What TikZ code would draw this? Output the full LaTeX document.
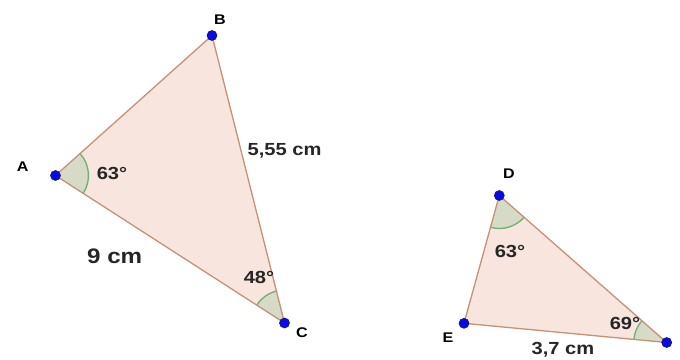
\documentclass[tikz,border=0pt]{standalone}
\usepackage{fontspec}
\newfontfamily\lbl[FakeStretch=1.15]{Liberation Sans}
\usetikzlibrary{angles}
\definecolor{trifill}{RGB}{248,230,222}
\definecolor{triedge}{RGB}{196,146,118}
\definecolor{angfill}{RGB}{214,218,198}
\definecolor{angarc}{RGB}{110,178,112}
\definecolor{ptblue}{RGB}{10,10,230}
\definecolor{ptedge}{RGB}{20,20,110}
\begin{document}
\begin{tikzpicture}[x=1pt,y=1pt,
  pt/.style={circle,fill=ptblue,draw=ptedge,line width=0.6pt,inner sep=0pt,minimum size=10pt},
  vlab/.style={font=\lbl\bfseries\fontsize{14}{14}\selectfont,text=black,inner sep=0pt},
  mlab/.style={font=\lbl\bfseries\fontsize{17.5}{17.5}\selectfont,text=black!85,inner sep=0pt},
  blab/.style={font=\lbl\bfseries\fontsize{21}{21}\selectfont,text=black!85,inner sep=0pt},
  tri/.style={fill=trifill,draw=triedge,line width=1.3pt,line join=round},
  ang/.style={fill=angfill,draw=angarc,line width=1.3pt,angle radius=33pt}]
\useasboundingbox (0,0) rectangle (680,-359);
\coordinate (A) at (55.5,-175.5);
\coordinate (B) at (212,-35.5);
\coordinate (C) at (284.5,-323);
\coordinate (D) at (499.3,-195.5);
\coordinate (E) at (464,-323.3);
\coordinate (F) at (666.7,-342.5);
\fill[trifill] (A) -- (B) -- (C) -- cycle;
\fill[trifill] (D) -- (E) -- (F) -- cycle;
\pic[ang] {angle = C--A--B};
\pic[ang] {angle = B--C--A};
\pic[ang] {angle = E--D--F};
\pic[ang] {angle = D--F--E};
\draw[tri,fill=none] (A) -- (B) -- (C) -- cycle;
\draw[tri,fill=none] (D) -- (E) -- (F) -- cycle;
\node[pt] (pA) at (A) {};
\node[pt] (pB) at (B) {};
\node[pt] (pC) at (C) {};
\node[pt] (pD) at (D) {};
\node[pt] (pE) at (E) {};
\node[pt] (pF) at (F) {};
\node[vlab] (lA) at (22.7,-167) {A};
\node[vlab] (lB) at (220,-20) {B};
\node[vlab] (lC) at (302,-333) {C};
\node[vlab] (lD) at (509,-174) {D};
\node[vlab] (lE) at (448,-338) {E};
\node[mlab] (aA) at (112,-173) {63°};
\node[mlab] (aC) at (259,-277) {48°};
\node[mlab] (aD) at (510,-251) {63°};
\node[mlab] (aF) at (625,-323) {69°};
\node[mlab] (sBC) at (284.5,-151) {5,55 cm};
\node[mlab] (sEF) at (563,-350) {3,7 cm};
\node[blab] (sAC) at (114.7,-256) {9 cm};
\end{tikzpicture}
\end{document}
